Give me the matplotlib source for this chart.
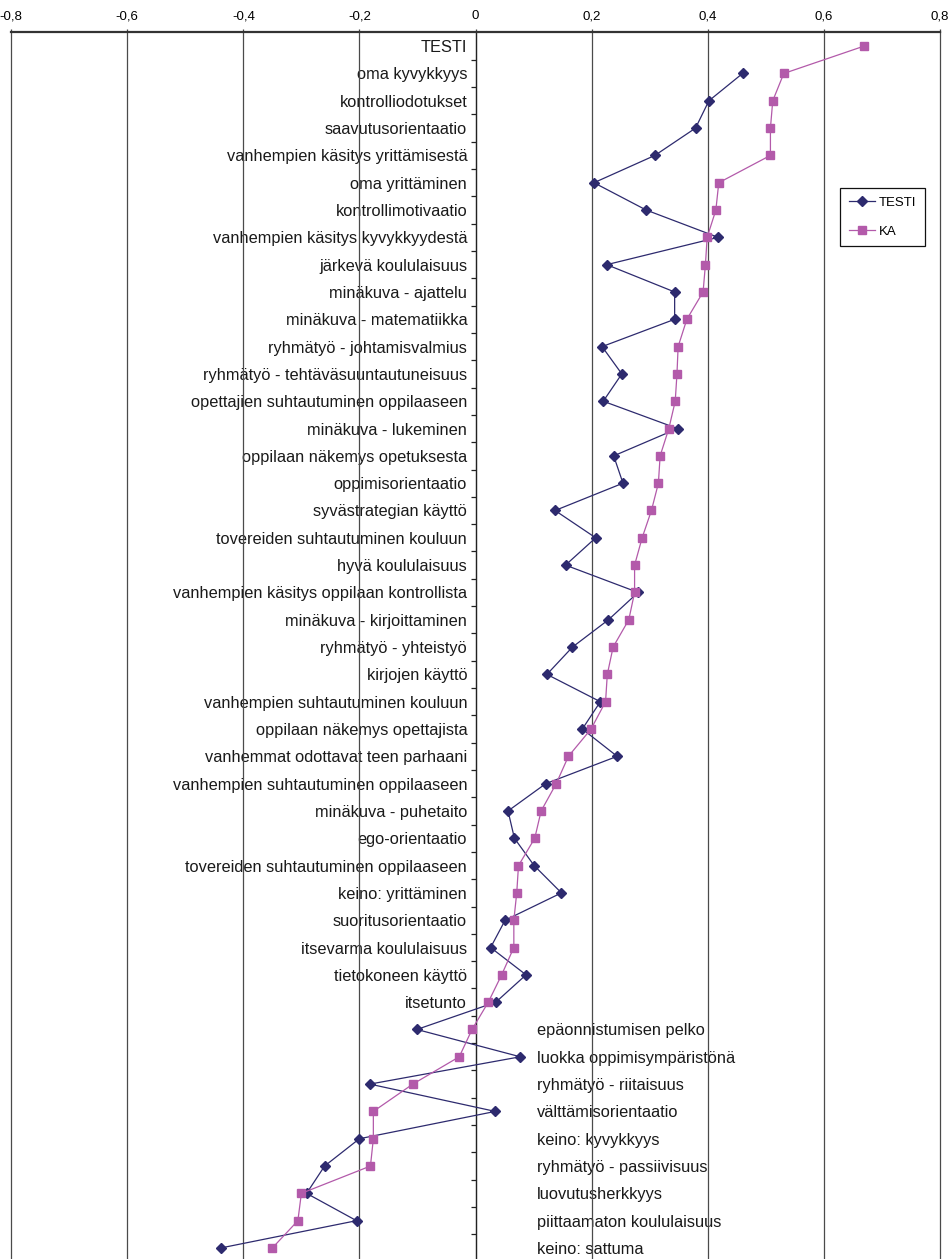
import numpy as np
import matplotlib.pyplot as plt
from matplotlib.ticker import FuncFormatter, FixedLocator

categories = [
    "TESTI",
    "oma kyvykkyys",
    "kontrolliodotukset",
    "saavutusorientaatio",
    "vanhempien käsitys yrittämisestä",
    "oma yrittäminen",
    "kontrollimotivaatio",
    "vanhempien käsitys kyvykkyydestä",
    "järkevä koululaisuus",
    "minäkuva - ajattelu",
    "minäkuva - matematiikka",
    "ryhmätyö - johtamisvalmius",
    "ryhmätyö - tehtäväsuuntautuneisuus",
    "opettajien suhtautuminen oppilaaseen",
    "minäkuva - lukeminen",
    "oppilaan näkemys opetuksesta",
    "oppimisorientaatio",
    "syvästrategian käyttö",
    "tovereiden suhtautuminen kouluun",
    "hyvä koululaisuus",
    "vanhempien käsitys oppilaan kontrollista",
    "minäkuva - kirjoittaminen",
    "ryhmätyö - yhteistyö",
    "kirjojen käyttö",
    "vanhempien suhtautuminen kouluun",
    "oppilaan näkemys opettajista",
    "vanhemmat odottavat teen parhaani",
    "vanhempien suhtautuminen oppilaaseen",
    "minäkuva - puhetaito",
    "ego-orientaatio",
    "tovereiden suhtautuminen oppilaaseen",
    "keino: yrittäminen",
    "suoritusorientaatio",
    "itsevarma koululaisuus",
    "tietokoneen käyttö",
    "itsetunto",
    "epäonnistumisen pelko",
    "luokka oppimisympäristönä",
    "ryhmätyö - riitaisuus",
    "välttämisorientaatio",
    "keino: kyvykkyys",
    "ryhmätyö - passiivisuus",
    "luovutusherkkyys",
    "piittaamaton koululaisuus",
    "keino: sattuma",
]

testi = [
    None, 0.460, 0.402, 0.379, 0.309, 0.204, 0.294, 0.418, 0.226, 0.343,
    0.343, 0.218, 0.252, 0.220, 0.348, 0.238, 0.254, 0.137, 0.207, 0.155,
    0.280, 0.229, 0.167, 0.123, 0.215, 0.184, 0.244, 0.121, 0.056, 0.067,
    0.101, 0.148, 0.051, 0.026, 0.087, 0.035, -0.101, 0.077, -0.182, 0.034,
    -0.200, -0.260, -0.291, -0.205, -0.439,
]

ka = [
    0.669, 0.531, 0.512, 0.508, 0.508, 0.419, 0.414, 0.399, 0.396, 0.392,
    0.364, 0.349, 0.347, 0.344, 0.333, 0.318, 0.315, 0.303, 0.287, 0.274,
    0.274, 0.264, 0.237, 0.227, 0.224, 0.199, 0.160, 0.139, 0.113, 0.102,
    0.074, 0.071, 0.066, 0.066, 0.045, 0.022, -0.006, -0.028, -0.108, -0.176,
    -0.176, -0.181, -0.300, -0.306, -0.350,
]

x_ticks = [-0.8, -0.6, -0.4, -0.2, 0, 0.2, 0.4, 0.6, 0.8]

testi_arr = np.array([np.nan if v is None else v for v in testi])
ka_arr = np.array(ka)
y = np.arange(len(categories))

fig = plt.figure(figsize=(9.53, 12.59), dpi=100)
ax = fig.add_axes([0.01165, -0.0021, 0.97465, 0.97629])

ax.plot(testi_arr, y, color="#2D2A6E", lw=0.9, marker="D", ms=5.4,
        label="TESTI", zorder=3)
ax.plot(ka_arr, y, color="#B35AAA", lw=0.9, marker="s", ms=5.8,
        label="KA", zorder=3)

ax.set_xlim(-0.8, 0.8)
ax.set_ylim(len(categories) - 0.5, -0.5)

# value axis on top, comma decimals
ax.xaxis.tick_top()
ax.xaxis.set_major_locator(FixedLocator(x_ticks))
ax.xaxis.set_major_formatter(FuncFormatter(
    lambda v, p: "0" if abs(v) < 1e-9 else f"{v:.1f}".replace(".", ",")))
ax.tick_params(axis="x", top=True, bottom=False, direction="out", length=2.5,
               width=0.9, color="#444444", pad=5, labelsize=9.5)
for lab in ax.get_xticklabels():
    lab.set_family(["Liberation Sans Narrow", "Liberation Sans"])
for v in x_ticks:
    ax.axvline(v, color="#4a4a4a", lw=0.9, zorder=1.5, clip_on=False)

# category axis crosses at zero, ticks between categories
for s in ["right", "bottom"]:
    ax.spines[s].set_visible(False)
ax.spines["top"].set_linewidth(1.6)
ax.spines["top"].set_color("#333333")
ax.spines["left"].set_position(("data", 0))
ax.spines["left"].set_linewidth(0.9)
ax.spines["left"].set_color("#222222")
ax.yaxis.set_major_locator(FixedLocator(np.arange(len(categories)) + 0.5))
ax.yaxis.set_major_formatter(FuncFormatter(lambda v, p: ""))
ax.tick_params(axis="y", direction="out", length=3.5, width=0.9,
               color="#222222")

for i, (name, k) in enumerate(zip(categories, ka)):
    if k < 0:
        ax.annotate(name, xy=(0, i), xytext=(44, 0), textcoords="offset points",
                    ha="left", va="center_baseline", fontsize=11.8,
                    family="Liberation Sans", color="#1a1a1a", zorder=1)
    else:
        ax.annotate(name, xy=(0, i), xytext=(-6, 0), textcoords="offset points",
                    ha="right", va="center_baseline", fontsize=11.8,
                    family="Liberation Sans", color="#1a1a1a", zorder=1)

leg = ax.legend(loc="upper left", bbox_to_anchor=(0.8814, 0.8507),
                bbox_transform=fig.transFigure, borderaxespad=0,
                fancybox=False, edgecolor="#111111", framealpha=1,
                handlelength=2.0, labelspacing=1.25, borderpad=0.65,
                handletextpad=0.3,
                prop={"family": ["Liberation Sans Narrow", "Liberation Sans"],
                      "size": 9.5})
leg.get_frame().set_linewidth(0.9)

fig.savefig("out.png", dpi=100)
